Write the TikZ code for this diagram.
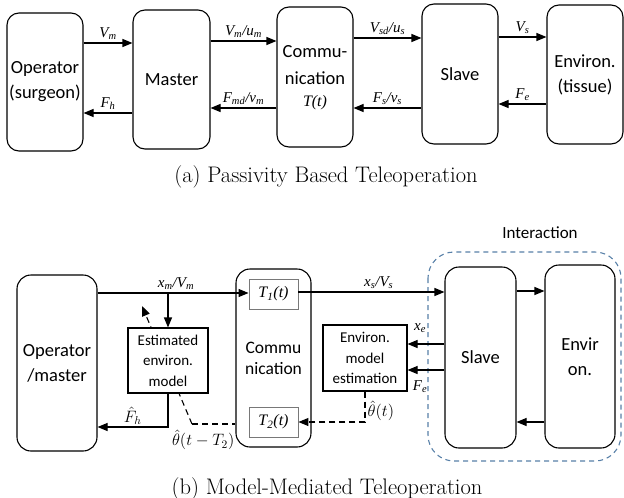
\RequirePackage{fix-cm}
\documentclass[tikz,border=0pt]{standalone}
\usepackage{fontspec}
\usetikzlibrary{arrows.meta,backgrounds,calc}
\newfontfamily\carl{Carlito}
\newfontfamily\tnr{Liberation Serif}
\definecolor{intblue}{RGB}{88,128,168}
\definecolor{tgray}{RGB}{120,120,120}
\begin{document}
\begin{tikzpicture}[x=1pt,y=-1pt,
  rbox/.style={draw, line width=1.1pt, rounded corners=12pt, align=center, inner sep=0pt, font=\carl\fontsize{18.5}{25}\selectfont},
  rboxb/.style={rbox, rounded corners=14pt},
  sbox/.style={draw, line width=1.1pt, align=center, inner sep=0pt, fill=white, font=\carl\fontsize{15}{20.5}\selectfont},
  tbox/.style={draw=tgray, line width=0.9pt, inner sep=0pt, minimum width=49pt, minimum height=30pt, font=\tnr\itshape\fontsize{16}{16}\selectfont},
  arr/.style={line width=1.1pt, -{Triangle[length=10pt,width=8pt]}},
  darr/.style={arr, dashed, dash pattern=on 6pt off 4pt},
  dline/.style={line width=1.1pt, dashed, dash pattern=on 6pt off 4pt},
  lab/.style={font=\tnr\itshape\fontsize{15}{15}\selectfont, inner sep=1pt},
  mlab/.style={font=\fontsize{16.5}{16.5}\selectfont, inner sep=0.5pt},
  captxt/.style={font=\fontsize{22.5}{24}\selectfont, inner sep=0pt}
]
\useasboundingbox (0,0) rectangle (624,498);

% ---------- (a) ----------
\node[rbox, minimum width=76pt, minimum height=138pt] (op) at (45,82) {Operator\\(surgeon)};
\node[rbox, minimum width=77pt, minimum height=139pt] (ma) at (171.5,79.5) {Master};
\node[rbox, minimum width=76pt, minimum height=140pt] (co) at (315,77) {};
\node[font=\carl\fontsize{18.5}{27}\selectfont, align=center, inner sep=0pt] (cotxt) at (315,78) {Commu-\\nication\\[-5pt]{\tnr\itshape\fontsize{16}{16}\selectfont T(t)}};
\node[rbox, minimum width=76pt, minimum height=140pt] (sl) at (460,74) {Slave};
\node[rbox, minimum width=76pt, minimum height=139pt] (en) at (585,74.5) {Environ.\\(tissue)};

\draw[arr] (op.east |- 0,43) -- node[lab, above=2pt] {V\textsubscript{m}} (ma.west |- 0,43);
\draw[arr] (ma.west |- 0,113) -- node[lab, above=2pt] {F\textsubscript{h}} (op.east |- 0,113);
\draw[arr] (ma.east |- 0,41) -- node[lab, above=2pt] {V\textsubscript{m}/u\textsubscript{m}} (co.west |- 0,41);
\draw[arr] (co.west |- 0,108) -- node[lab, above=2pt] {F\textsubscript{md}/v\textsubscript{m}} (ma.east |- 0,108);
\draw[arr] (co.east |- 0,38) -- node[lab, above=2pt] {V\textsubscript{sd}/u\textsubscript{s}} (sl.west |- 0,38);
\draw[arr] (sl.west |- 0,108) -- node[lab, above=2pt] {F\textsubscript{s}/v\textsubscript{s}} (co.east |- 0,108);
\draw[arr] (sl.east |- 0,37) -- node[lab, above=2pt] {V\textsubscript{s}} (en.west |- 0,37);
\draw[arr] (en.west |- 0,104) -- node[lab, above=2pt] {F\textsubscript{e}} (sl.east |- 0,104);

\node[captxt] (capa) at (326,177) {(a) Passivity Based Teleoperation};

% ---------- (b) ----------
\draw[intblue, line width=1.1pt, dash pattern=on 5pt off 4pt, rounded corners=26pt] (428,252) rectangle (621,461);
\node[font=\carl\fontsize{17}{17}\selectfont] (inter) at (540,233) {Interaction};

\node[rboxb, minimum width=80pt, minimum height=176pt] (opm) at (57,363) {Operator\\/master};
\node[rboxb, minimum width=75pt, minimum height=178pt, font=\carl\fontsize{17.5}{21}\selectfont] (cml) at (273.5,358) {Commu\\nication};
\node[tbox, fill=white] (t1) at (273.5,294) {T\textsubscript{1}(t)};
\node[tbox, fill=white] (t2) at (273.5,422) {T\textsubscript{2}(t)};
\node[sbox, minimum width=80pt, minimum height=65pt] (est) at (168,360.5) {Estimated\\environ.\\model};
\node[sbox, minimum width=84pt, minimum height=66pt] (eme) at (365,358) {Environ.\\model\\estimation};
\node[rboxb, minimum width=71pt, minimum height=181pt] (sll) at (480.5,357.5) {Slave};
\node[rboxb, minimum width=70pt, minimum height=183pt] (env) at (580,356.5) {Envir\\on.};

\coordinate (dk) at (192,424);
\coordinate (dtip) at (142,306);
\begin{scope}[on background layer]
  \draw[darr] (dk) -- (dtip);
\end{scope}
\draw[dline] (dk) -- (cml.west |- dk);
\node[mlab, anchor=east] at (235,440) {$\hat\theta(t-T_2)$};

\draw[arr] (opm.east |- 0,293) -- node[lab, above=2pt, pos=0.52] {x\textsubscript{m}/V\textsubscript{m}} (t1.west |- 0,293);
\draw[arr] (est.north |- 0,293) -- (est.north);
\draw[arr] (est.south) |- node[mlab, pos=0.75, above=1pt] {$\hat F_h$} (opm.east |- 0,427);

\draw[arr] (t1.east |- 0,292) -- node[lab, above=2pt, pos=0.55] {x\textsubscript{s}/V\textsubscript{s}} (sll.west |- 0,292);
\draw[arr] (sll.east |- 0,291) -- (env.west |- 0,291);
\draw[arr] (env.west |- 0,422) -- (sll.east |- 0,422);
\draw[arr] (sll.west |- 0,344) -- (eme.east |- 0,344);
\node[lab] at (420,328) {x\textsubscript{e}};
\draw[arr] (sll.west |- 0,370) -- (eme.east |- 0,370);
\node[lab] at (420,387) {F\textsubscript{e}};
\draw[darr] (eme.south) |- (t2.east);
\node[mlab, anchor=west] at (367,411) {$\hat\theta(t)$};

\node[captxt] (capb) at (327,489) {(b) Model-Mediated Teleoperation};
\end{tikzpicture}
\end{document}
